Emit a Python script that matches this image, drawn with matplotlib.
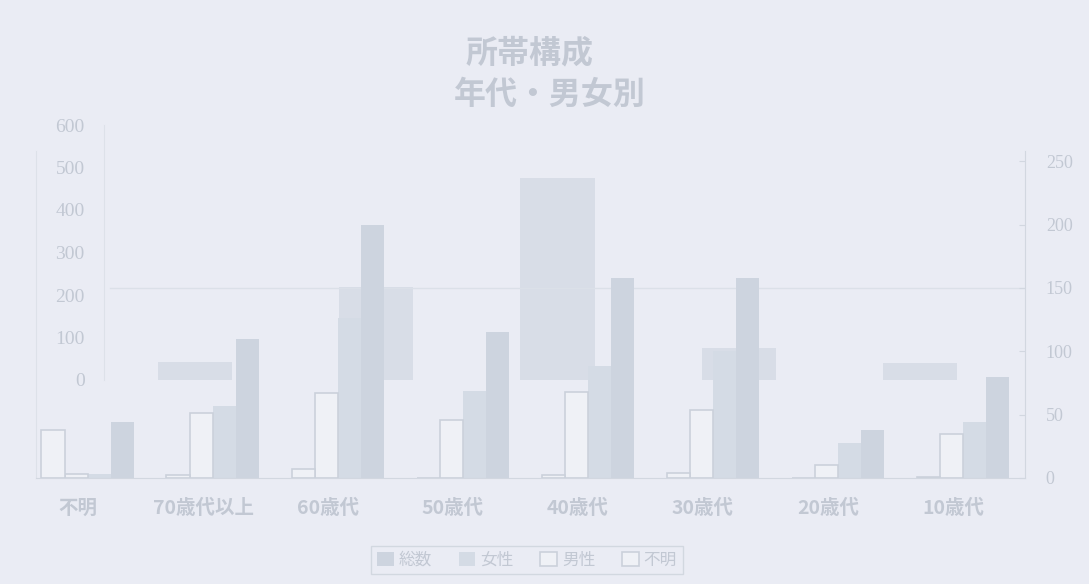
import matplotlib
matplotlib.use("Agg")
import matplotlib.pyplot as plt

plt.rcParams['font.family'] = ['Noto Sans CJK JP', 'DejaVu Sans']

# Household composition by age group and sex
categories = ["10歳代", "20歳代", "30歳代", "40歳代", "50歳代", "60歳代", "70歳代以上", "不明"]
total = [80, 38, 158, 158, 115, 200, 110, 44]
female = [44, 28, 100, 88, 69, 126, 57, 3]
male = [35, 10, 54, 68, 46, 67, 51, 3]
unknown = [1, 0, 4, 2, 0, 7, 2, 38]
series_labels = ["総数", "女性", "男性", "不明"]

right_ticks = [0, 50, 100, 150, 200, 250]
left_ticks = [0, 100, 200, 300, 400, 500, 600]

# faint blocks showing through from the other side of the sheet
reverse_values = [42, 218, 475, 75, 40]

BG = "#eaecf4"
TXT = "#c2c8d3"
LINE = "#d2d7e0"

W, H = 1089, 584
fig = plt.figure(figsize=(W / 100, H / 100), dpi=100, facecolor=BG)


def rect(x0, x1, ytop, ybot):
    return [x0 / W, 1 - ybot / H, (x1 - x0) / W, (ybot - ytop) / H]


# --- reverse-side chart (left scale 0-600) ---
axb = fig.add_axes(rect(104, 1011, 125, 380), zorder=1)
axb.set_facecolor("none")
axb.bar(range(len(reverse_values)), reverse_values, width=0.41,
        color="#cfd6e1", alpha=0.65, linewidth=0)
axb.set_xlim(-0.5, len(reverse_values) - 0.5)
axb.set_ylim(0, 600)
axb.set_yticks(left_ticks)
axb.set_xticks([])
for s in ["top", "right", "bottom"]:
    axb.spines[s].set_visible(False)
axb.spines["left"].set_color("#dde1e9")
axb.tick_params(axis="y", length=0, pad=14, labelsize=14, labelcolor=TXT)
for t in axb.get_yticklabels():
    t.set_fontfamily("Liberation Serif")

# --- main chart (right scale 0-250) ---
ax = fig.add_axes(rect(36, 1025, 151, 478), zorder=2)
ax.set_facecolor("none")

idx = list(range(len(categories)))
bw = 0.184
offsets = {"総数": -0.352, "女性": -0.168, "男性": 0.016, "不明": 0.2}
styles = {
    "総数": dict(color="#cdd4df", linewidth=0),
    "女性": dict(color="#d4dbe5", linewidth=0),
    "男性": dict(color="#eff1f6", edgecolor="#cbd1db", linewidth=1.2),
    "不明": dict(color="#eff1f6", edgecolor="#cbd1db", linewidth=1.2),
}
values = {"総数": total, "女性": female, "男性": male, "不明": unknown}
handles = []
for name in series_labels:
    bars = ax.bar([i + offsets[name] for i in idx], values[name], width=bw,
                  label=name, **styles[name])
    handles.append(bars)

ax.axhline(150, xmin=0.075, color="#dbe0e8", linewidth=1, zorder=0)

ax.set_xlim(7.336, -0.576)
ax.set_ylim(0, 258)
ax.set_xticks(idx)
ax.set_xticklabels(categories, fontsize=14, color=TXT, fontweight="bold")
ax.tick_params(axis="x", length=0, pad=15)
ax.yaxis.tick_right()
ax.set_yticks(right_ticks)
ax.tick_params(axis="y", length=4, direction="in", color=LINE, pad=15,
               labelsize=13, labelcolor=TXT)
for t in ax.get_yticklabels():
    t.set_fontfamily("Liberation Serif")
ax.spines["top"].set_visible(False)
ax.spines["left"].set_color("#dde1e9")
ax.spines["bottom"].set_color(LINE)
ax.spines["right"].set_color(LINE)

# title
fig.text(530 / W, 1 - 53 / H, "所帯構成", ha="center", va="center",
         fontsize=23, fontweight="bold", color=TXT)
fig.text(550 / W, 1 - 95 / H, "年代・男女別", ha="center", va="center",
         fontsize=23, fontweight="bold", color=TXT)

# legend
leg = fig.legend(handles, series_labels, ncol=4, loc="center",
                 bbox_to_anchor=(527 / W, 1 - 560 / H), frameon=True,
                 fancybox=False, edgecolor="#cdd3dc", facecolor=BG,
                 fontsize=12, labelcolor=TXT, handlelength=1.0,
                 handleheight=0.9, handletextpad=0.3, columnspacing=1.6,
                 borderpad=0.35)
leg.get_frame().set_linewidth(1.0)

fig.savefig("out.png", dpi=100, facecolor=BG)
